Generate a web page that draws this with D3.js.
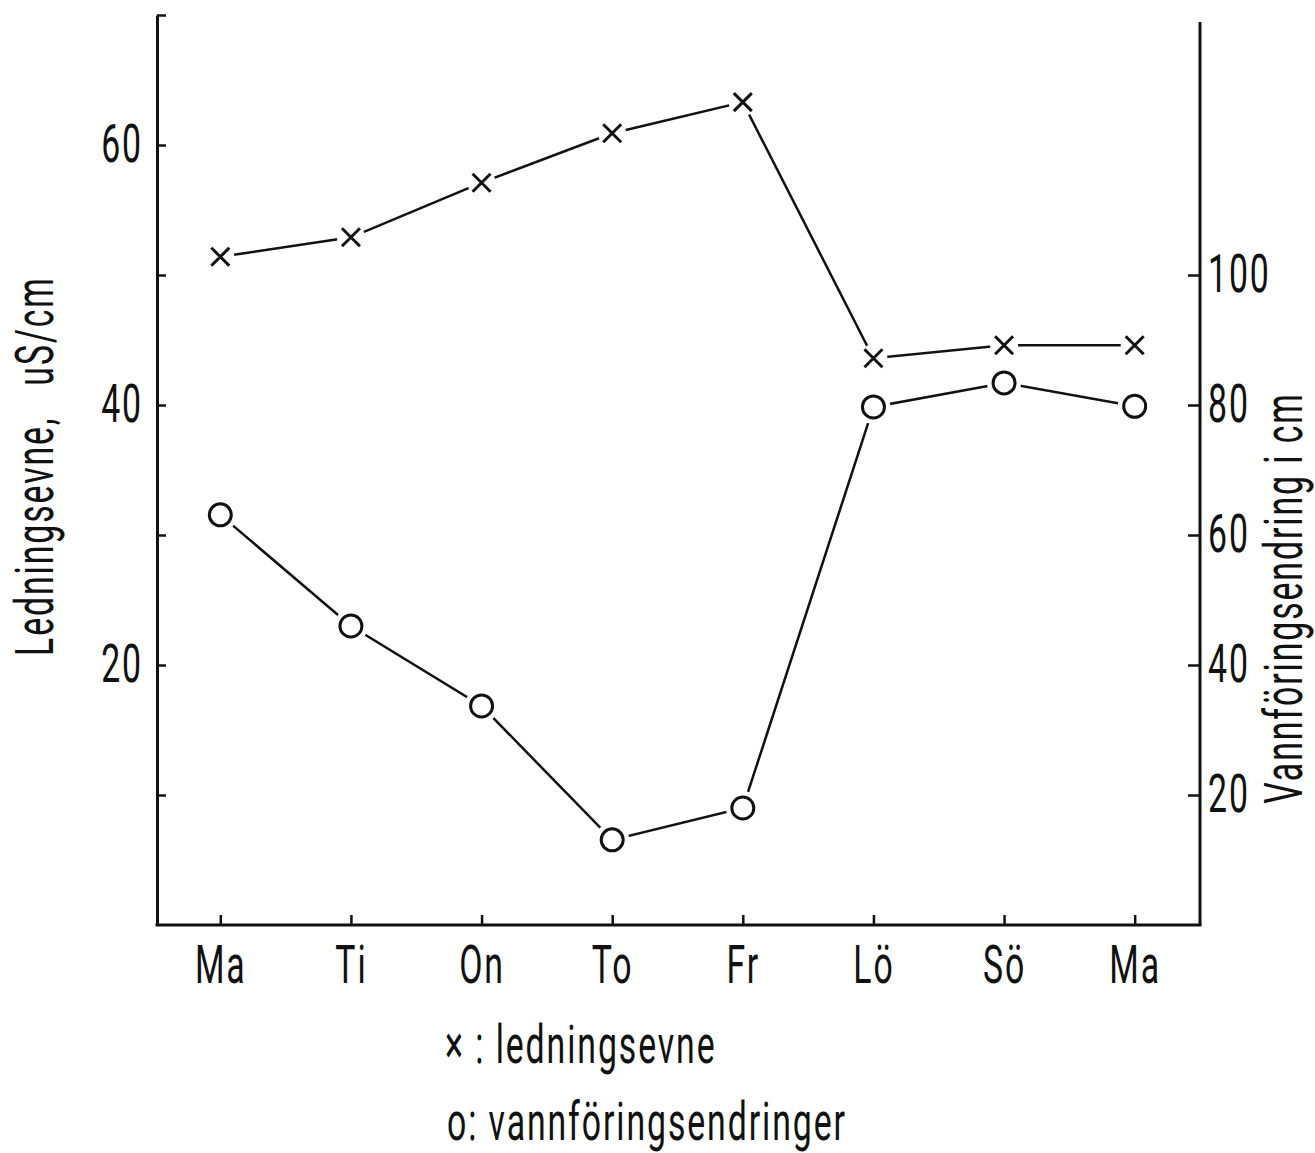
<!DOCTYPE html>
<html>
<head>
<meta charset="utf-8">
<script src="https://cdn.jsdelivr.net/npm/d3@7"></script>
<style>
  body { margin: 0; background: #fff; }
  text { font-family: Roboto, "DejaVu Sans Condensed", sans-serif; font-weight: 400; letter-spacing: 3px; fill: #111; }
  .axis path, .axis line { stroke: #111; }
</style>
</head>
<body>
<div id="chart"></div>
<script>
const width = 1315;
const height = 1153;

// weekdays along the x axis (Monday appears twice)
const days = ['Ma', 'Ti', 'On', 'To', 'Fr', 'Lö', 'Sö', 'Ma'];
// x : ledningsevne, uS/cm (left axis)
const ledningsevne = [51.4, 52.9, 57.1, 60.9, 63.3, 43.6, 44.6, 44.6];
// o : vannføringsendring, cm (right axis)
const vannforing = [63.1, 46.0, 33.7, 13.1, 18.0, 79.7, 83.4, 79.8];

const leftTicks = [10, 20, 30, 40, 50, 60, 70];
const leftLabelled = [20, 40, 60];
const rightTicks = [20, 40, 60, 80, 100];

const fontSize = 53;

const svg = d3
  .select('#chart')
  .append('svg')
  .attr('width', width)
  .attr('height', height);

// the lettering is narrow: squeeze every text so the long legend line is ~400px wide
const probe = svg.append('text').attr('font-size', fontSize).text('o: vannföringsendringer');
const squeeze = 400 / probe.node().getComputedTextLength();
probe.remove();

const x = d3.scalePoint().domain(d3.range(days.length)).range([155, 1200]).padding(0.5);
const yL = d3.scaleLinear().domain([0, 70]).range([925, 15]);
const yR = d3.scaleLinear().domain([0, 140]).range([925, 15]);

// axes
const leftAxis = d3
  .axisLeft(yL)
  .tickValues(leftTicks)
  .tickSizeInner(-9)
  .tickSizeOuter(0)
  .tickPadding(14)
  .tickFormat((d) => (leftLabelled.includes(d) ? d : ''));

const rightAxis = d3
  .axisRight(yR)
  .tickValues(rightTicks)
  .tickSizeInner(-12)
  .tickSizeOuter(0)
  .tickPadding(8);

const bottomAxis = d3
  .axisBottom(x)
  .tickSizeInner(-10)
  .tickSizeOuter(0)
  .tickPadding(20)
  .tickFormat((i) => days[i]);

const gL = svg.append('g').attr('class', 'axis').attr('transform', 'translate(157,0)').call(leftAxis);
const gR = svg.append('g').attr('class', 'axis').attr('transform', 'translate(1200,0)').call(rightAxis);
const gB = svg.append('g').attr('class', 'axis').attr('transform', 'translate(0,925)').call(bottomAxis);

[gL, gR, gB].forEach((g) => {
  g.select('.domain').attr('stroke-width', 3);
  g.selectAll('.tick line').attr('stroke-width', 2.5);
  g.selectAll('text')
    .attr('font-size', fontSize)
    .attr('fill', '#111')
    .attr('font-family', null)
    .each(function () {
      const t = d3.select(this);
      const tx = +t.attr('x') || 0;
      t.attr('x', null).attr('transform', 'translate(' + tx + ',0) scale(' + squeeze + ',1)');
    });
});
gR.select('.domain').attr('d', 'M0,925V22');
gB.select('.domain').attr('d', 'M155.5,0H1201.5');

// lines
const lineL = d3.line().x((d, i) => x(i)).y((d) => yL(d));
const lineR = d3.line().x((d, i) => x(i)).y((d) => yR(d));

svg.append('path')
  .datum(ledningsevne)
  .attr('d', lineL)
  .attr('fill', 'none')
  .attr('stroke', '#111')
  .attr('stroke-width', 2.5);

svg.append('path')
  .datum(vannforing)
  .attr('d', lineR)
  .attr('fill', 'none')
  .attr('stroke', '#111')
  .attr('stroke-width', 2.5);

// x markers, with a white gap round them
const crosses = svg.selectAll('.cross')
  .data(ledningsevne)
  .enter()
  .append('g')
  .attr('class', 'cross')
  .attr('transform', (d, i) => 'translate(' + x(i) + ',' + yL(d) + ')');
crosses.append('circle').attr('r', 14).attr('fill', '#fff');
crosses.append('path')
  .attr('d', 'M-9,-9L9,9M-9,9L9,-9')
  .attr('stroke', '#111')
  .attr('stroke-width', 3);

// o markers
const rings = svg.selectAll('.ring')
  .data(vannforing)
  .enter()
  .append('g')
  .attr('class', 'ring')
  .attr('transform', (d, i) => 'translate(' + x(i) + ',' + yR(d) + ')');
rings.append('circle').attr('r', 17).attr('fill', '#fff');
rings.append('circle')
  .attr('r', 11)
  .attr('fill', 'none')
  .attr('stroke', '#111')
  .attr('stroke-width', 3);

// axis titles
svg.append('text')
  .attr('transform', 'translate(53,466) rotate(-90) scale(' + squeeze + ',1)')
  .attr('text-anchor', 'middle')
  .attr('font-size', fontSize)
  .style('white-space', 'pre')
  .text('Ledningsevne,   uS/cm');

svg.append('text')
  .attr('transform', 'translate(1302,598) rotate(-90) scale(' + squeeze + ',1)')
  .attr('text-anchor', 'middle')
  .attr('font-size', fontSize)
  .style('white-space', 'pre')
  .text('Vannföringsendring i cm');

// legend
svg.append('text')
  .attr('transform', 'translate(445,1063) scale(' + squeeze + ',1)')
  .attr('font-size', fontSize)
  .style('white-space', 'pre')
  .text('× : ledningsevne');

svg.append('text')
  .attr('transform', 'translate(447,1140) scale(' + squeeze + ',1)')
  .attr('font-size', fontSize)
  .style('white-space', 'pre')
  .text('o: vannföringsendringer');
</script>
</body>
</html>
